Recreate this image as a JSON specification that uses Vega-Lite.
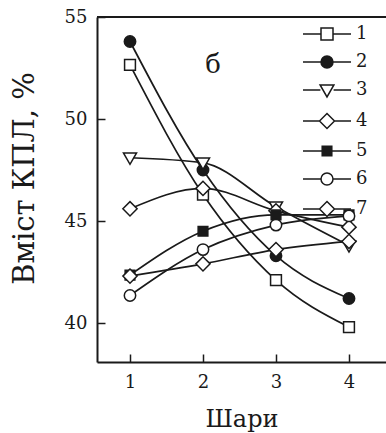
{
  "$schema": "https://vega.github.io/schema/vega-lite/v6.json",
  "width": 289,
  "height": 345,
  "autosize": "none",
  "padding": {"left": 97, "top": 17, "right": 0, "bottom": 71},
  "background": "white",
  "config": {
    "view": {"stroke": null},
    "font": "DejaVu Serif",
    "axis": {"labelFont": "DejaVu Serif", "titleFont": "DejaVu Serif", "labelColor": "#1a1a1a", "titleColor": "#1a1a1a", "domainColor": "#1a1a1a", "tickColor": "#1a1a1a", "domainWidth": 2, "tickWidth": 1.5, "grid": false, "titleFontWeight": "normal"},
    "legend": {"labelFont": "DejaVu Serif"}
  },
  "data": {"values": [
    {"series": "1", "x": 1, "y": 52.65},
    {"series": "1", "x": 2, "y": 46.3},
    {"series": "1", "x": 3, "y": 42.1},
    {"series": "1", "x": 4, "y": 39.8},
    {"series": "2", "x": 1, "y": 53.8},
    {"series": "2", "x": 2, "y": 47.5},
    {"series": "2", "x": 3, "y": 43.3},
    {"series": "2", "x": 4, "y": 41.2},
    {"series": "3", "x": 1, "y": 48.1},
    {"series": "3", "x": 2, "y": 47.85},
    {"series": "3", "x": 3, "y": 45.7},
    {"series": "3", "x": 4, "y": 43.8},
    {"series": "4", "x": 1, "y": 45.6},
    {"series": "4", "x": 2, "y": 46.6},
    {"series": "4", "x": 3, "y": 45.5},
    {"series": "4", "x": 4, "y": 44.7},
    {"series": "5", "x": 1, "y": 42.35},
    {"series": "5", "x": 2, "y": 44.5},
    {"series": "5", "x": 3, "y": 45.3},
    {"series": "5", "x": 4, "y": 45.3},
    {"series": "6", "x": 1, "y": 41.35},
    {"series": "6", "x": 2, "y": 43.6},
    {"series": "6", "x": 3, "y": 44.8},
    {"series": "6", "x": 4, "y": 45.25},
    {"series": "7", "x": 1, "y": 42.3},
    {"series": "7", "x": 2, "y": 42.9},
    {"series": "7", "x": 3, "y": 43.6},
    {"series": "7", "x": 4, "y": 44.0}
  ]},
  "layer": [
    {
      "mark": {"type": "rule", "color": "#1a1a1a", "strokeWidth": 2},
      "encoding": {"y": {"datum": 55, "type": "quantitative"}}
    },
    {
      "mark": {"type": "line", "interpolate": "monotone", "color": "#1a1a1a", "strokeWidth": 1.7},
      "encoding": {
        "x": {"field": "x", "type": "quantitative", "scale": {"domain": [0.548, 4.507], "nice": false, "zero": false},
          "axis": {"values": [1, 2, 3, 4], "format": "d", "tickSize": -8, "labelFontSize": 18, "labelPadding": 33, "labelBaseline": "alphabetic", "title": "Шари", "titleFontSize": 24, "titleX": 144.5, "titleY": 64, "titleBaseline": "alphabetic", "titleAlign": "center"}},
        "y": {"field": "y", "type": "quantitative", "scale": {"domain": [38.09, 55], "nice": false, "zero": false},
          "axis": {"values": [40, 45, 50, 55], "format": "d", "tickSize": -8, "labelFontSize": 18, "labelPadding": 18, "title": "Вміст КПЛ, %", "titleFontSize": 29, "titleAngle": -90, "titleX": -64, "titleY": 161, "titleAlign": "center", "titleBaseline": "alphabetic"}},
        "detail": {"field": "series"}
      }
    },
    {
      "mark": {"type": "point", "filled": true, "size": 130, "stroke": "#1a1a1a", "strokeWidth": 1.5, "opacity": 1},
      "encoding": {
        "x": {"field": "x", "type": "quantitative"},
        "y": {"field": "y", "type": "quantitative"},
        "shape": {"field": "series", "type": "nominal", "legend": null,
          "scale": {"domain": ["1","2","3","4","5","6","7"], "range": [
            "M-0.95,-0.95H0.95V0.95H-0.95Z",
            "circle",
            "M-1.15,-0.85L1.15,-0.85L0,1.15Z",
            "M-1.25,0L0,-1.25L1.25,0L0,1.25Z",
            "M-0.85,-0.85H0.85V0.85H-0.85Z",
            "circle",
            "M-1.25,0L0,-1.25L1.25,0L0,1.25Z"
          ]}},
        "fill": {"field": "series", "type": "nominal", "legend": null,
          "scale": {"domain": ["1","2","3","4","5","6","7"], "range": ["white","#1a1a1a","white","white","#1a1a1a","white","white"]}}
      }
    },
    {
      "transform": [{"filter": "datum.x == 1"}],
      "mark": {"type": "point", "filled": true, "size": 144, "stroke": "#1a1a1a", "strokeWidth": 1.5, "opacity": 0},
      "encoding": {
        "x": {"field": "x", "type": "quantitative"},
        "y": {"field": "y", "type": "quantitative"},
        "shape": {"field": "series", "type": "nominal",
          "scale": {"domain": ["1","2","3","4","5","6","7"], "range": [
            "M-4,0H-1M1,0H4M-1,-1H1V1H-1Z",
            "M-4,0H-1M1,0H4M1,0A1,1 0 1,1 -1,0A1,1 0 1,1 1,0Z",
            "M-4,0H-1.1M1.1,0H4M-1.15,-0.85L1.15,-0.85L0,1.15Z",
            "M-4,0H-1.25M1.25,0H4M-1.25,0L0,-1.25L1.25,0L0,1.25Z",
            "M-4,0H-0.8M0.8,0H4M-0.8,-0.8H0.8V0.8H-0.8Z",
            "M-4,0H-1M1,0H4M1,0A1,1 0 1,1 -1,0A1,1 0 1,1 1,0Z",
            "M-4,0H-1.25M1.25,0H4M-1.25,0L0,-1.25L1.25,0L0,1.25Z"
          ]},
          "legend": {"orient": "none", "legendX": 221, "legendY": 8, "title": null, "labelFontSize": 18, "labelColor": "#1a1a1a", "labelOffset": 20, "rowPadding": 10, "padding": 0, "symbolSize": 144, "symbolStrokeWidth": 1.5, "symbolStrokeColor": "#1a1a1a", "symbolOpacity": 1,
            "encode": {"symbols": {"update": {"opacity": {"value": 1}, "stroke": {"value": "#1a1a1a"}, "strokeWidth": {"value": 1.5}}}}}},
        "fill": {"field": "series", "type": "nominal",
          "scale": {"domain": ["1","2","3","4","5","6","7"], "range": ["white","#1a1a1a","white","white","#1a1a1a","white","white"]},
          "legend": {"orient": "none", "legendX": 221, "legendY": 8, "title": null, "labelFontSize": 18, "labelColor": "#1a1a1a", "labelOffset": 20, "rowPadding": 10, "padding": 0, "symbolSize": 144, "symbolStrokeWidth": 1.5, "symbolStrokeColor": "#1a1a1a", "symbolOpacity": 1,
            "encode": {"symbols": {"update": {"opacity": {"value": 1}, "stroke": {"value": "#1a1a1a"}, "strokeWidth": {"value": 1.5}}}}}}
      }
    },
    {
      "data": {"values": [{"label": "б", "x": 2.137, "y": 52.65}]},
      "mark": {"type": "text", "font": "DejaVu Serif", "fontSize": 26, "color": "#1a1a1a", "baseline": "middle", "align": "center"},
      "encoding": {
        "x": {"field": "x", "type": "quantitative"},
        "y": {"field": "y", "type": "quantitative"},
        "text": {"field": "label"}
      }
    }
  ],
  "resolve": {"scale": {"shape": "independent", "fill": "independent"}}
}
